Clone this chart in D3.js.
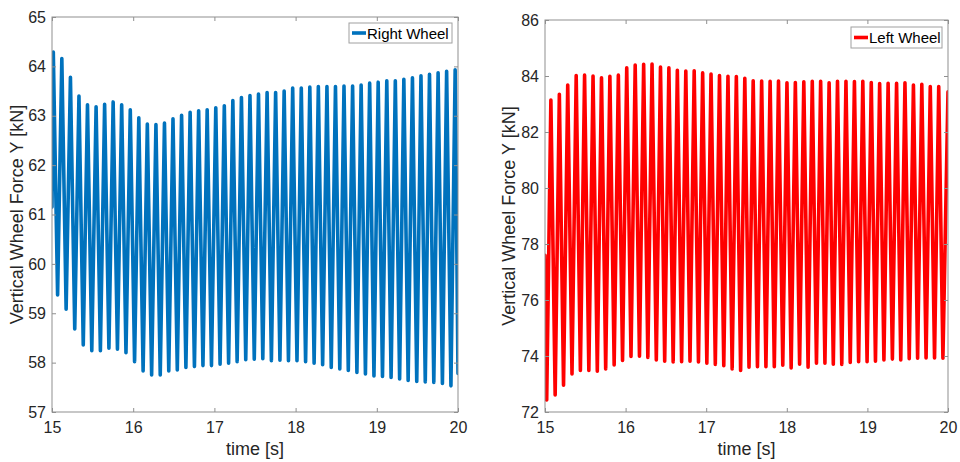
<!DOCTYPE html>
<html>
<head>
<meta charset="utf-8">
<script src="https://cdn.jsdelivr.net/npm/d3@7"></script>
<style>
  html, body { margin: 0; padding: 0; background: #fff; }
  svg { display: block; }
  text { font-family: "Liberation Sans", Arial, Helvetica, sans-serif; }
</style>
</head>
<body>
<svg id="chart" width="960" height="462"></svg>
<script>
// ---------------- DATA ----------------
// Right wheel (left panel): time [s] and vertical force [kN], alternating peaks / troughs
const rightWheelTime = [
  15.000, 15.016, 15.069, 15.121, 15.174, 15.227, 15.280, 15.332, 15.385, 15.437, 15.490,
  15.543, 15.596, 15.648, 15.701, 15.753, 15.806, 15.858, 15.911, 15.964, 16.017,
  16.069, 16.122, 16.174, 16.227, 16.280, 16.333, 16.385, 16.438, 16.490, 16.543,
  16.596, 16.649, 16.701, 16.754, 16.806, 16.859, 16.911, 16.964, 17.017, 17.070,
  17.122, 17.175, 17.227, 17.280, 17.333, 17.386, 17.438, 17.491, 17.543, 17.596,
  17.649, 17.702, 17.754, 17.807, 17.859, 17.912, 17.964, 18.017, 18.070, 18.123,
  18.175, 18.228, 18.280, 18.333, 18.386, 18.439, 18.491, 18.544, 18.596, 18.649,
  18.702, 18.755, 18.807, 18.860, 18.912, 18.965, 19.017, 19.070, 19.123, 19.176,
  19.228, 19.281, 19.333, 19.386, 19.439, 19.492, 19.544, 19.597, 19.649, 19.702,
  19.755, 19.808, 19.860, 19.913, 19.965, 20.000
];
const rightWheelForce = [
  61.15, 64.29, 59.37, 64.16, 59.08, 63.78, 58.68, 63.40, 58.36, 63.22, 58.24,
  63.18, 58.24, 63.23, 58.29, 63.28, 58.27, 63.22, 58.20, 63.12, 58.02,
  62.96, 57.83, 62.83, 57.75, 62.82, 57.75, 62.85, 57.83, 62.94, 57.85,
  63.01, 57.90, 63.07, 57.92, 63.10, 57.94, 63.12, 57.94, 63.16, 57.97,
  63.20, 57.99, 63.31, 58.02, 63.37, 58.06, 63.41, 58.07, 63.44, 58.08,
  63.47, 58.04, 63.47, 58.05, 63.50, 58.04, 63.56, 58.04, 63.56, 58.02,
  63.58, 57.99, 63.59, 57.96, 63.59, 57.90, 63.59, 57.87, 63.60, 57.84,
  63.60, 57.80, 63.62, 57.77, 63.66, 57.73, 63.68, 57.72, 63.71, 57.70,
  63.71, 57.67, 63.74, 57.64, 63.77, 57.62, 63.81, 57.61, 63.84, 57.60,
  63.87, 57.58, 63.90, 57.53, 63.93, 57.78
];

// Left wheel (right panel): time [s] and vertical force [kN], alternating troughs / peaks
const leftWheelTime = [
  15.000, 15.021, 15.073, 15.126, 15.178, 15.230, 15.282, 15.335, 15.387, 15.439, 15.491,
  15.544, 15.596, 15.649, 15.701, 15.753, 15.805, 15.858, 15.910, 15.962, 16.014,
  16.067, 16.119, 16.172, 16.224, 16.276, 16.328, 16.381, 16.433, 16.485, 16.537,
  16.590, 16.642, 16.695, 16.747, 16.799, 16.851, 16.904, 16.956, 17.008, 17.060,
  17.113, 17.165, 17.218, 17.270, 17.322, 17.374, 17.427, 17.479, 17.531, 17.583,
  17.636, 17.688, 17.741, 17.793, 17.845, 17.897, 17.950, 18.002, 18.054, 18.106,
  18.159, 18.211, 18.264, 18.316, 18.368, 18.420, 18.473, 18.525, 18.577, 18.629,
  18.682, 18.734, 18.787, 18.839, 18.891, 18.943, 18.996, 19.048, 19.100, 19.152,
  19.205, 19.257, 19.310, 19.362, 19.414, 19.466, 19.519, 19.571, 19.623, 19.675,
  19.728, 19.780, 19.833, 19.885, 19.937, 20.000
];
const leftWheelForce = [
  77.60, 72.43, 83.14, 72.61, 83.35, 72.96, 83.68, 73.36, 84.02, 73.48, 84.03,
  73.48, 84.00, 73.46, 83.94, 73.54, 83.99, 73.68, 84.03, 73.84, 84.29,
  73.98, 84.39, 73.99, 84.42, 73.95, 84.43, 73.86, 84.32, 73.81, 84.29,
  73.79, 84.20, 73.80, 84.18, 73.81, 84.19, 73.79, 84.11, 73.74, 84.07,
  73.70, 84.02, 73.65, 83.99, 73.54, 83.98, 73.48, 83.92, 73.60, 83.83,
  73.62, 83.82, 73.62, 83.81, 73.62, 83.82, 73.67, 83.76, 73.57, 83.77,
  73.71, 83.79, 73.60, 83.81, 73.74, 83.81, 73.74, 83.76, 73.71, 83.81,
  73.70, 83.81, 73.77, 83.80, 73.80, 83.81, 73.80, 83.77, 73.81, 83.73,
  73.86, 83.74, 73.89, 83.74, 73.86, 83.76, 73.90, 83.68, 73.92, 83.70,
  73.93, 83.62, 73.93, 83.62, 73.92, 83.44
];

const xTicks = [15, 16, 17, 18, 19, 20];
const leftPanelYTicks = [57, 58, 59, 60, 61, 62, 63, 64, 65];
const rightPanelYTicks = [72, 74, 76, 78, 80, 82, 84, 86];

// ---------------- DRAW ----------------
const svg = d3.select("#chart");
const axisColor = "#8f8f8f";
const textColor = "#262626";

function panel(cfg) {
  const g = svg.append("g");
  const x = d3.scaleLinear().domain([15, 20]).range([cfg.left, cfg.right]);
  const y = d3.scaleLinear().domain(cfg.yDomain).range([cfg.bottom, cfg.top]);

  const clipId = "clip-" + cfg.id;
  svg.append("clipPath").attr("id", clipId).append("rect")
    .attr("x", cfg.left).attr("y", cfg.top)
    .attr("width", cfg.right - cfg.left).attr("height", cfg.bottom - cfg.top);

  const pts = cfg.time.map((t, i) => [t, cfg.values[i]]);
  g.append("path")
    .datum(pts)
    .attr("clip-path", `url(#${clipId})`)
    .attr("fill", "none")
    .attr("stroke", cfg.color)
    .attr("stroke-width", 3.6)
    .attr("stroke-linejoin", "round")
    .attr("stroke-linecap", "round")
    .attr("d", d3.line().x(d => x(d[0])).y(d => y(d[1])));

  const tickLen = 4;
  const styleAxis = sel => {
    sel.select(".domain").remove();
    sel.selectAll(".tick line").attr("stroke", axisColor);
    sel.selectAll(".tick text").attr("fill", textColor)
      .style("font-size", "16px")
      .style("font-family", '"Liberation Sans", Arial, Helvetica, sans-serif');
  };

  // bottom axis (inward ticks)
  g.append("g").attr("transform", `translate(0,${cfg.bottom})`)
    .call(d3.axisBottom(x).tickValues(xTicks).tickSize(-tickLen).tickPadding(10).tickFormat(d3.format("d")))
    .call(styleAxis);
  // top axis ticks only
  g.append("g").attr("transform", `translate(0,${cfg.top})`)
    .call(d3.axisTop(x).tickValues(xTicks).tickSize(-tickLen).tickFormat(""))
    .call(styleAxis);
  // left axis
  g.append("g").attr("transform", `translate(${cfg.left},0)`)
    .call(d3.axisLeft(y).tickValues(cfg.yTicks).tickSize(-tickLen).tickPadding(6).tickFormat(d3.format("d")))
    .call(styleAxis);
  // right axis ticks only
  g.append("g").attr("transform", `translate(${cfg.right},0)`)
    .call(d3.axisRight(y).tickValues(cfg.yTicks).tickSize(-tickLen).tickFormat(""))
    .call(styleAxis);

  // box
  g.append("rect")
    .attr("x", cfg.left).attr("y", cfg.top)
    .attr("width", cfg.right - cfg.left).attr("height", cfg.bottom - cfg.top)
    .attr("fill", "none").attr("stroke", axisColor).attr("stroke-width", 1);

  // axis labels
  g.append("text")
    .attr("x", (cfg.left + cfg.right) / 2).attr("y", 455)
    .attr("text-anchor", "middle").attr("fill", textColor)
    .style("font-size", "18px").text("time [s]");
  g.append("text")
    .attr("transform", `translate(${cfg.ylabelX},${(cfg.top + cfg.bottom) / 2}) rotate(-90)`)
    .attr("text-anchor", "middle").attr("fill", textColor)
    .style("font-size", "18px").text("Vertical Wheel Force Y [kN]");

  // legend
  const L = cfg.legend;
  g.append("rect")
    .attr("x", L.x).attr("y", L.y).attr("width", L.w).attr("height", L.h)
    .attr("fill", "#fff").attr("stroke", "#a0a0a0").attr("stroke-width", 1);
  g.append("line")
    .attr("x1", L.x + 3).attr("x2", L.x + 17)
    .attr("y1", L.y + L.h / 2).attr("y2", L.y + L.h / 2)
    .attr("stroke", cfg.color).attr("stroke-width", 3.6);
  g.append("text")
    .attr("x", L.x + 18).attr("y", L.y + L.h / 2 + 5.5)
    .attr("fill", "#000").style("font-size", "15px").text(cfg.name);
}

panel({
  id: "a", left: 52, right: 458, top: 17, bottom: 412,
  yDomain: [57, 65], yTicks: leftPanelYTicks,
  time: rightWheelTime, values: rightWheelForce,
  color: "#0072BD", name: "Right Wheel", ylabelX: 23,
  legend: { x: 349, y: 23, w: 103, h: 20 }
});

panel({
  id: "b", left: 545, right: 948, top: 20, bottom: 412,
  yDomain: [72, 86], yTicks: rightPanelYTicks,
  time: leftWheelTime, values: leftWheelForce,
  color: "#FF0000", name: "Left Wheel", ylabelX: 515,
  legend: { x: 851, y: 27, w: 91, h: 21 }
});
</script>
</body>
</html>
